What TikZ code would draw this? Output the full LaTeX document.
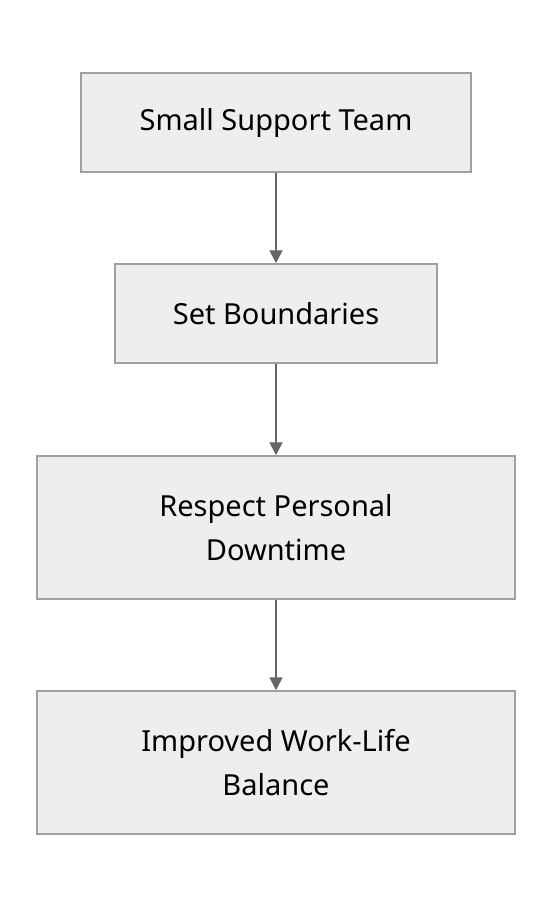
\documentclass[tikz,border=0pt]{standalone}
\usepackage{fontspec}
\setmainfont{Noto Sans}
\usetikzlibrary{arrows.meta, positioning}
\definecolor{boxfill}{HTML}{EEEEEE}
\definecolor{boxline}{HTML}{A0A0A0}
\definecolor{arrowline}{HTML}{666666}
\tikzset{
  stepbox/.style = {
    draw = boxline, fill = boxfill, line width = 1.5pt,
    align = center, inner sep = 0pt,
    font = \fontsize{29}{44}\selectfont
  },
  flow/.style = {
    draw = arrowline, line width = 1.6pt,
    -{Triangle[length=13pt, width=13pt]}
  }
}

\begin{document}
\begin{tikzpicture}[x=1pt, y=-1pt]

  % Canvas
  \useasboundingbox (0,0) rectangle (552,908);

  % Steps
  \node[stepbox, minimum width=390pt, minimum height=99pt] (team) at (276,122.5) {Small Support Team};
  \node[stepbox, minimum width=322pt, minimum height=99pt] (bounds) at (276,313.5) {Set Boundaries};
  \node[stepbox, minimum width=478pt, minimum height=143pt] (downtime) at (276,527.5) {Respect Personal\\Downtime};
  \node[stepbox, minimum width=478pt, minimum height=143pt] (balance) at (276,762.5) {Improved Work-Life\\Balance};

  % Flow
  \draw[flow] (team) -- (bounds);
  \draw[flow] (bounds) -- (downtime);
  \draw[flow] (downtime) -- (balance);

\end{tikzpicture}
\end{document}
